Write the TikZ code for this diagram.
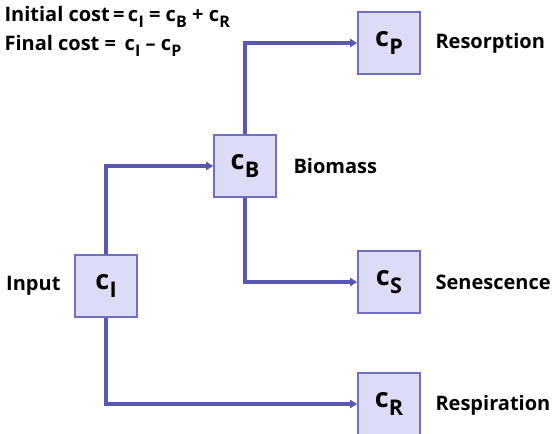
\documentclass[tikz,border=0pt]{standalone}
\usepackage{fontspec}
\setmainfont{Open Sans}
\usepackage{xcolor}
\usetikzlibrary{arrows.meta,positioning}
\definecolor{flowline}{RGB}{88,88,178}
\definecolor{boxfill}{RGB}{220,220,246}
\definecolor{boxedge}{RGB}{112,112,192}
\newcommand{\cst}[1]{c\kern0.3pt\raisebox{-0.55ex}{\scalebox{0.8}{#1}}}

\begin{document}
\begin{tikzpicture}[>={Triangle[length=7pt,width=8pt]},x=1pt,y=-1pt,font=\bfseries,
  pool/.style={draw=boxedge,line width=1.6pt,fill=boxfill,minimum size=62pt,inner sep=0pt,font=\bfseries\fontsize{27}{27}\selectfont},
  flux/.style={draw=flowline,line width=4pt,->},
  lbl/.style={font=\bfseries\fontsize{20}{22}\selectfont,anchor=west}]
  \useasboundingbox (0,0) rectangle (552,434);
  \node[pool] (cI) at (106,286) {\cst{I}};
  \node[pool] (cB) at (245,166) {\cst{B}};
  \node[pool] (cP) at (389,43) {\cst{P}};
  \node[pool] (cS) at (389,282) {\cst{S}};
  \node[pool] (cR) at (389,404) {\cst{R}};

  \draw[flux] (cI.north) |- (cB.west);
  \draw[flux] (cB.north) |- (cP.west);
  \draw[flux] (cB.south) |- (cS.west);
  \draw[flux] (cI.south) |- (cR.west);

  \node[lbl,anchor=east] (input) at (64,286) {Input};
  \node[lbl] (biomass) at (290,166) {Biomass};
  \node[lbl] (resorb) at (432,43) {Resorption};
  \node[lbl] (senesc) at (432,282) {Senescence};
  \node[lbl] (respir) at (432,405) {Respiration};

  \node[lbl] (initial) at (1,17) {Initial cost\,=\,\cst{I} = \cst{B} + \cst{R}};
  \node[lbl] (final) at (1,46) {Final cost = \,\cst{I} -- \cst{P}};
\end{tikzpicture}
\end{document}
